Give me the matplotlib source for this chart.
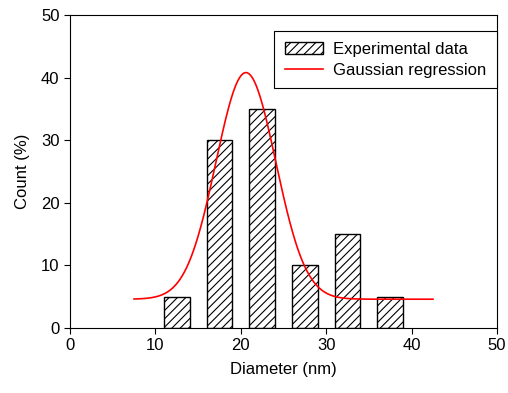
import numpy as np
import matplotlib
matplotlib.use("Agg")
import matplotlib.pyplot as plt

plt.rcParams["font.family"] = ["Liberation Sans", "DejaVu Sans"]
plt.rcParams["hatch.linewidth"] = 0.8

# histogram bins (nm) and counts (%)
bin_centers = [12.5, 17.5, 22.5, 27.5, 32.5, 37.5]
counts = [5, 30, 35, 10, 15, 5]

# Gaussian regression parameters
g_base = 4.6
g_amp = 36.2
g_mean = 20.6
g_sigma = 3.5
g_range = (7.5, 42.5)

fig = plt.figure(figsize=(5.08, 3.93), dpi=100)
ax = fig.add_axes([70 / 508, 1 - 328 / 393, 427 / 508, 313 / 393])

bars = ax.bar(bin_centers, counts, width=3, facecolor="white", edgecolor="black",
              hatch="////", linewidth=1.0, zorder=2)

xs = np.linspace(g_range[0], g_range[1], 400)
ys = g_base + g_amp * np.exp(-0.5 * ((xs - g_mean) / g_sigma) ** 2)
line, = ax.plot(xs, ys, color="red", linewidth=1.2, zorder=3)

ax.set_xlim(0, 50)
ax.set_ylim(0, 50)
ax.set_xticks(range(0, 51, 10))
ax.set_yticks(range(0, 51, 10))
ax.tick_params(direction="out", length=4, labelsize=12)
ax.set_xlabel("Diameter (nm)", fontsize=12, labelpad=6)
ax.set_ylabel("Count (%)", fontsize=12, labelpad=8)

leg = ax.legend([bars, line], ["Experimental data", "Gaussian regression"],
                loc="upper right", bbox_to_anchor=(1.0, 0.949), fontsize=12,
                fancybox=False, edgecolor="black", framealpha=1,
                borderpad=0.65, handlelength=2.3, handletextpad=0.6,
                labelspacing=0.35, borderaxespad=0)
leg.get_frame().set_linewidth(0.8)

fig.savefig("out.png", dpi=100)
